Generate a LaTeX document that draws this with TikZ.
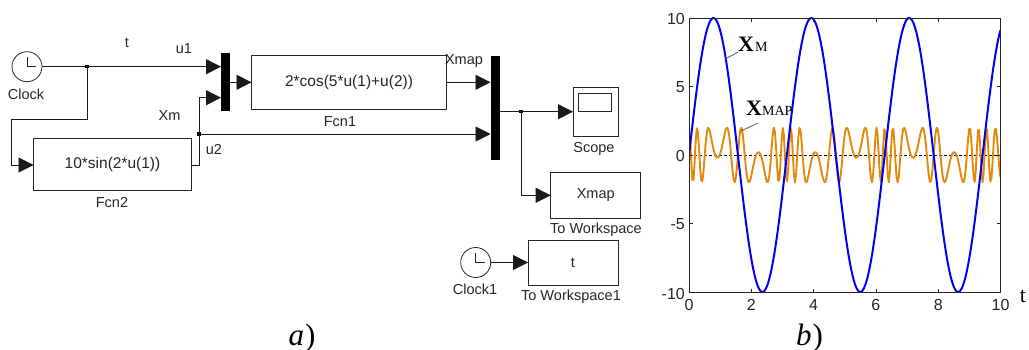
\documentclass[tikz,border=0pt]{standalone}
\usepackage{fontspec}
\setmainfont{Liberation Sans}
\newfontfamily\serifx{Liberation Serif}
\usetikzlibrary{arrows.meta}
\definecolor{txtc}{HTML}{262626}
\definecolor{orangec}{HTML}{E38A0C}
\definecolor{bluec}{HTML}{0000F5}
\tikzset{
  x=1pt,y=-1pt,
  wire/.style={draw=black!90,line width=0.8pt},
  arr/.style={wire,-{Triangle[length=15pt,width=15pt]}},
  blockbox/.style={draw=black!85,line width=0.8pt,fill=white,rectangle,inner sep=0pt,outer sep=0pt,text=txtc,font=\fontsize{14.5}{16}\selectfont},
  muxbar/.style={fill=black,rectangle,inner sep=0pt,outer sep=0pt},
  clockc/.style={draw=black!85,line width=0.8pt,circle,minimum size=30pt,inner sep=0pt,outer sep=0pt},
  lab/.style={text=txtc,inner sep=0pt,font=\fontsize{14.5}{16}\selectfont},
  dotj/.style={fill=black,rectangle,minimum size=3.5pt,inner sep=0pt},
  tick/.style={text=txtc,inner sep=0pt,font=\fontsize{16}{18}\selectfont},
  capt/.style={inner sep=0pt,anchor=base,font=\serifx\itshape\fontsize{31}{34}\selectfont},
  axisl/.style={draw=black!85,line width=0.8pt},
  leader/.style={draw=black!65,line width=0.8pt},
}
\begin{document}
\begin{tikzpicture}
\useasboundingbox (0,0) rectangle (1029,350);
% blocks
\node[clockc] (clock) at (27,66.7) {};
\node[clockc] (clock1) at (475.7,262.5) {};
\draw[line width=0.8pt,black!85] (27,57) -- (27,66.7) -- (36,66.7);
\draw[line width=0.8pt,black!85] (475.7,253) -- (475.7,262.5) -- (485,262.5);
\node[blockbox,minimum width=158pt,minimum height=52.5pt,font=\fontsize{15.5}{17}\selectfont] (fcn2) at (112.5,164.3) {10*sin(2*u(1))};
\node[blockbox,minimum width=195pt,minimum height=54.5pt,font=\fontsize{15.5}{17}\selectfont] (fcn1) at (349,82.3) {2*cos(5*u(1)+u(2))};
\node[muxbar,minimum width=9pt,minimum height=58pt] (mux1) at (225.5,82) {};
\node[muxbar,minimum width=9pt,minimum height=104pt] (mux2) at (495,108) {};
\node[blockbox,minimum width=45pt,minimum height=49pt] (scope) at (595.5,112.2) {};
\node[draw=black!85,line width=0.8pt,rectangle,minimum width=33pt,minimum height=18.4pt,inner sep=0pt] (screen) at (595.2,102.5) {};
\node[blockbox,minimum width=90pt,minimum height=45.3pt] (xmapw) at (595.7,195.3) {Xmap};
\node[blockbox,minimum width=90pt,minimum height=45.3pt] (tw) at (573,262.7) {t};
% junctions
\coordinate (j1) at (87,66.7);
\coordinate (j2) at (199,134);
\coordinate (j3) at (521,111.7);
\coordinate (c1) at (11,119);
\coordinate (c2) at (199,165);
\node[dotj] (dot1) at (j1) {};
\node[dotj] (dot2) at (j2) {};
\node[dotj] (dot3) at (j3) {};
% wires
\draw[arr] (clock.east) -- (mux1.west |- clock.east);
\draw[arr] (j1) |- (c1) |- (fcn2.west |- c2);
\draw[wire] (fcn2.east |- c2) -- (c2) -- (j2);
\draw[arr] (j2) |- (mux1.west |- 0,97.7);
\draw[arr] (j2) -- (mux2.west |- j2);
\draw[arr] (mux1.east |- fcn1.west) -- (fcn1.west);
\draw[arr] (fcn1.east) -- (mux2.west |- fcn1.east);
\draw[arr] (mux2.east |- j3) -- (scope.west |- j3);
\draw[arr] (j3) |- (xmapw.west);
\draw[arr] (clock1.east) -- (tw.west |- clock1.east);
% labels
\node[lab] (lt) at (127,43) {t};
\node[lab] (lu1) at (184,48.5) {u1};
\node[lab] (lxm) at (169.5,116) {Xm};
\node[lab] (lu2) at (214,150) {u2};
\node[lab] (lclock) at (26,94) {Clock};
\node[lab] (lfcn2) at (112,203) {Fcn2};
\node[lab] (lfcn1) at (340,122) {Fcn1};
\node[lab] (lxmap) at (464,61.5) {Xmap};
\node[lab] (lscope) at (594,149) {Scope};
\node[lab] (ltow) at (596,230) {To Workspace};
\node[lab] (ltow1) at (571,297) {To Workspace1};
\node[lab] (lclock1) at (475,289) {Clock1};
\node[capt] (capa) at (302,345) {a\kern1pt\textup{)}};
\node[capt] (capb) at (809.5,345) {b\kern1pt\textup{)}};
% plot
\begin{scope}
\clip (689,18) rectangle (1000.5,292.5);
\draw[densely dashed,black,line width=0.7pt] (689,155) -- (1000.5,155);
\draw[orangec,line width=1.9pt,line join=round] plot[samples=280,domain=0:10] ({689+31.15*\x},{155-13.7*2*cos(deg(5*\x+10*sin(deg(2*\x))))});
\draw[bluec,line width=2pt,line join=round] plot[samples=300,domain=0:10,smooth] ({689+31.15*\x},{155-13.7*10*sin(deg(2*\x))});
\end{scope}
\node[axisl,rectangle,minimum width=311.5pt,minimum height=274.5pt,inner sep=0pt,outer sep=0pt] (axes) at (844.75,155.25) {};
\foreach \v/\y/\name in {10/18/a,5/86.5/b,0/155/c,-5/223.5/d,-10/292.5/e}{
  \draw[axisl] (689,\y) -- ++(4,0);
  \draw[axisl] (1000.5,\y) -- ++(-4,0);
  \node[tick,anchor=east] (yt\name) at (685,{\y+1}) {\v};
}
\foreach \v in {0,2,4,6,8,10}{
  \draw[axisl] ({689+31.15*\v},292.5) -- ++(0,-4);
  \draw[axisl] ({689+31.15*\v},18) -- ++(0,4);
  \node[tick] (xt\v) at ({689+31.15*\v},305) {\v};
}
\node[inner sep=0pt,font=\serifx\fontsize{22}{24}\selectfont] (taxis) at (1023,296) {t};
\node[inner sep=0pt,anchor=base west,font=\serifx\fontsize{22}{24}\selectfont\bfseries] (xm) at (738,52) {X\kern1pt\fontsize{14}{16}\mdseries\selectfont M};
\node[inner sep=0pt,anchor=base west,font=\serifx\fontsize{22}{24}\selectfont\bfseries] (xmap) at (746,116) {X\fontsize{14}{16}\mdseries\selectfont MAP};
\coordinate (lm) at (725,59);
\coordinate (lx) at (741,131);
\draw[leader] (lm) -- (xm.south west);
\draw[leader] (lx) -- (758,123);
\end{tikzpicture}
\end{document}
